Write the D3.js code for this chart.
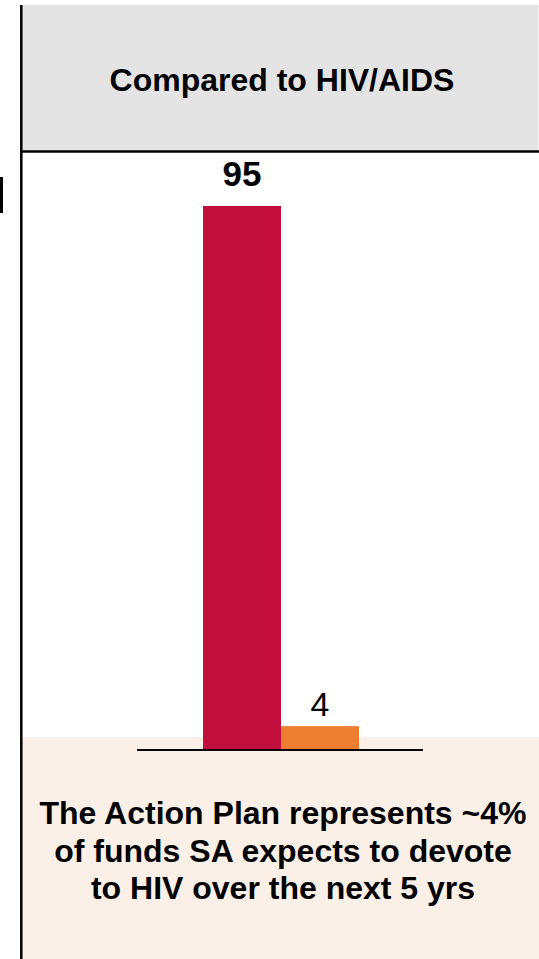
<!DOCTYPE html>
<html>
<head>
<meta charset="utf-8">
<script src="https://cdn.jsdelivr.net/npm/d3@7"></script>
<style>
  html, body { margin: 0; padding: 0; background: #ffffff; }
  svg { display: block; font-family: Arial, "Liberation Sans", sans-serif; }
</style>
</head>
<body>
<svg id="chart" width="539" height="959"></svg>
<script>
// ---- Data ----
const categories = ["HIV/AIDS funding", "Action Plan"];
const values = [95, 4];
const valueLabels = ["95", "4"];
const labelWeights = ["bold", "normal"];
const barColors = ["#C20E3C", "#ED7D31"];
const headerTitle = "Compared to HIV/AIDS";
const footerLines = [
  "The Action Plan represents ~4%",
  "of funds SA expects to devote",
  "to HIV over the next 5 yrs"
];

// ---- Drawing ----
const svg = d3.select("#chart");

// header panel
svg.append("rect").attr("x", 22).attr("y", 5).attr("width", 517).attr("height", 146)
  .attr("fill", "#E4E4E4");
svg.append("line").attr("x1", 538.5).attr("x2", 538.5).attr("y1", 5).attr("y2", 151)
  .attr("stroke", "#f4f4f4").attr("stroke-width", 1);
svg.append("line").attr("x1", 22).attr("x2", 539).attr("y1", 151.5).attr("y2", 151.5)
  .attr("stroke", "#000").attr("stroke-width", 2.5);
svg.append("text").attr("x", 282).attr("y", 91).attr("text-anchor", "middle")
  .attr("font-size", 32).attr("font-weight", "bold").attr("fill", "#000")
  .text(headerTitle);

// footer panel
svg.append("rect").attr("x", 22).attr("y", 737).attr("width", 517).attr("height", 222)
  .attr("fill", "#FBF0E7");
svg.selectAll("text.foot").data(footerLines).join("text").attr("class", "foot")
  .attr("x", 283).attr("y", (d, i) => 824 + i * 37.5)
  .attr("text-anchor", "middle").attr("font-size", 32).attr("font-weight", "bold")
  .attr("fill", "#000").text(d => d);

// left rule and side mark
svg.append("line").attr("x1", 21.3).attr("x2", 21.3).attr("y1", 5).attr("y2", 959)
  .attr("stroke", "#000").attr("stroke-width", 2.5);
svg.append("rect").attr("x", 0).attr("y", 177).attr("width", 3).attr("height", 36)
  .attr("fill", "#000");

// scales
const x = d3.scaleBand().domain(categories).range([203, 359]).padding(0);
const y = d3.scaleLinear().domain([0, 95]).range([749, 206]);

// bars
svg.selectAll("rect.bar").data(values).join("rect").attr("class", "bar")
  .attr("x", (d, i) => x(categories[i]))
  .attr("width", x.bandwidth())
  .attr("y", d => y(d))
  .attr("height", d => y(0) - y(d))
  .attr("fill", (d, i) => barColors[i]);

// value labels
svg.selectAll("text.val").data(values).join("text").attr("class", "val")
  .attr("x", (d, i) => x(categories[i]) + x.bandwidth() / 2)
  .attr("y", d => y(d) - (d > 50 ? 20 : 10))
  .attr("text-anchor", "middle")
  .attr("font-size", (d, i) => i === 0 ? 35 : 34)
  .attr("font-weight", (d, i) => labelWeights[i])
  .attr("fill", "#000")
  .text((d, i) => valueLabels[i]);

// baseline
svg.append("line").attr("x1", 137).attr("x2", 423).attr("y1", y(0) + 1).attr("y2", y(0) + 1)
  .attr("stroke", "#000").attr("stroke-width", 2);
</script>
</body>
</html>
